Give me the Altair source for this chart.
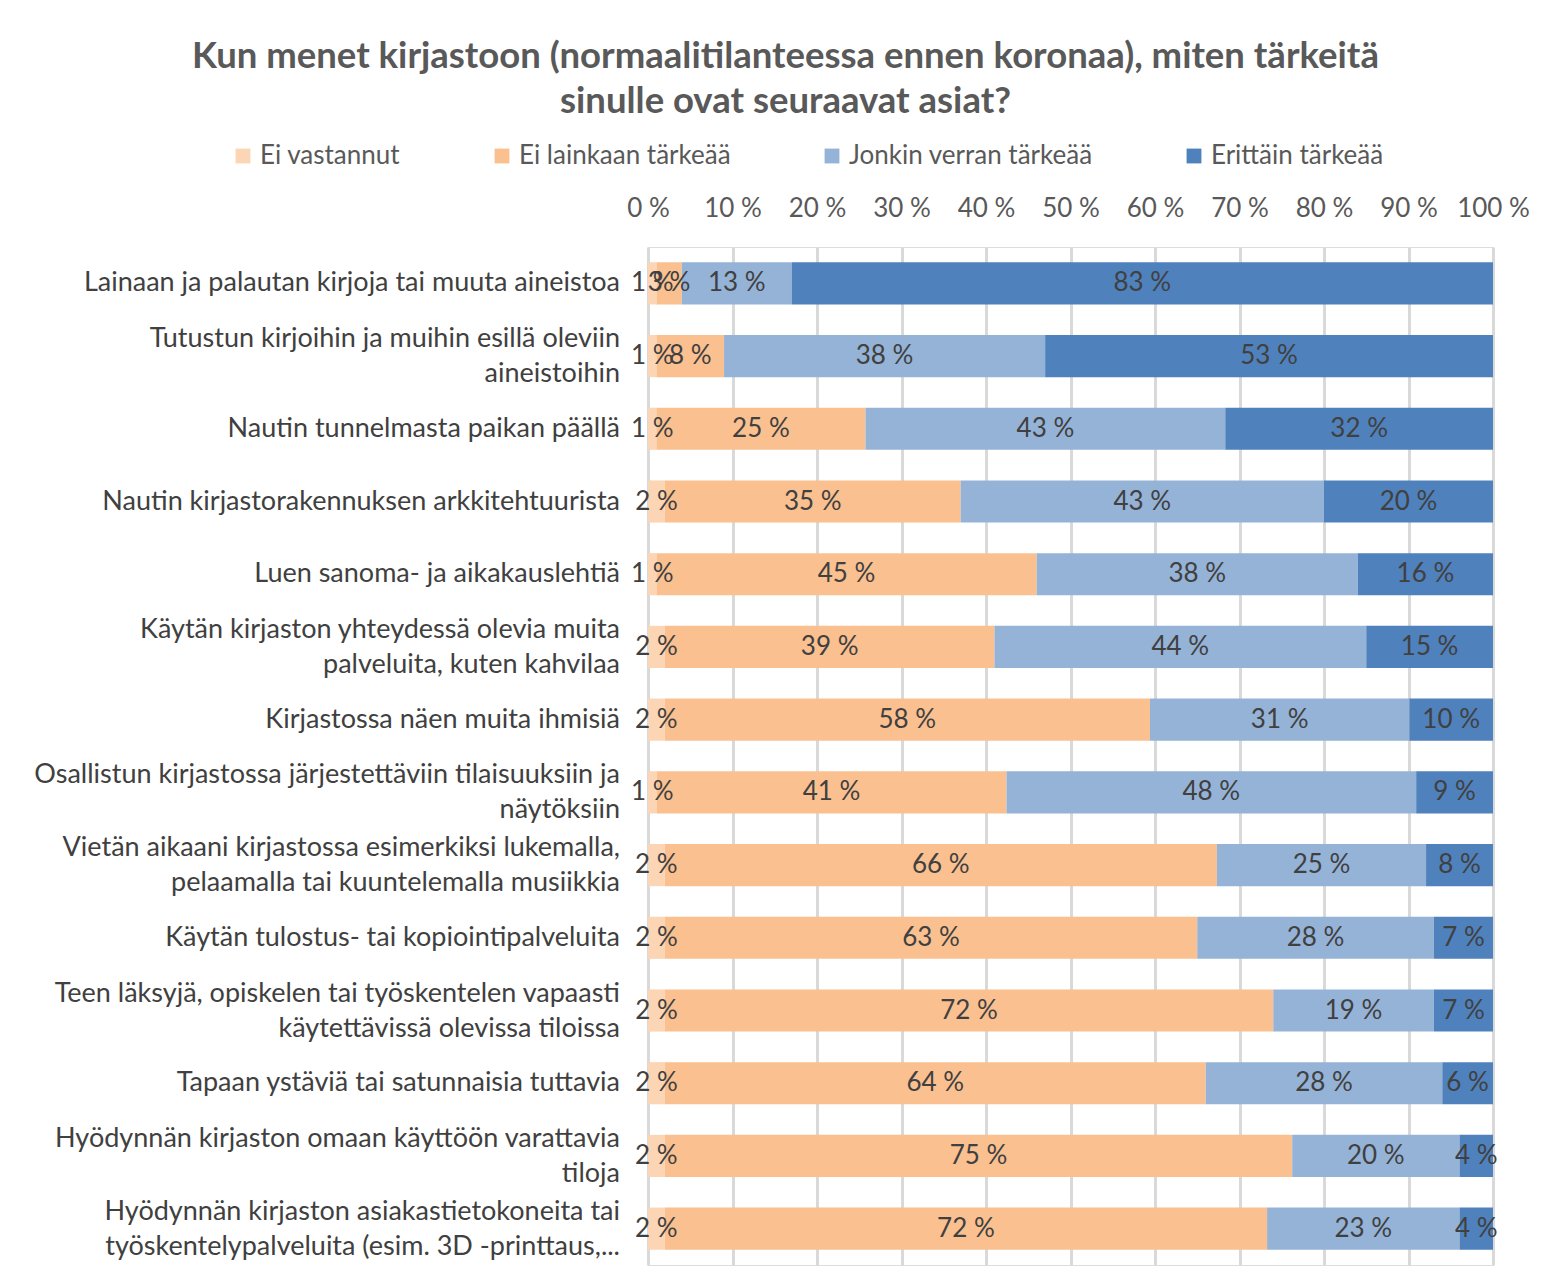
import altair as alt
import pandas as pd

categories = [
    "Lainaan ja palautan kirjoja tai muuta aineistoa",
    "Tutustun kirjoihin ja muihin esillä oleviin\naineistoihin",
    "Nautin tunnelmasta paikan päällä",
    "Nautin kirjastorakennuksen arkkitehtuurista",
    "Luen sanoma- ja aikakauslehtiä",
    "Käytän kirjaston yhteydessä olevia muita\npalveluita, kuten kahvilaa",
    "Kirjastossa näen muita ihmisiä",
    "Osallistun kirjastossa järjestettäviin tilaisuuksiin ja\nnäytöksiin",
    "Vietän aikaani kirjastossa esimerkiksi lukemalla,\npelaamalla tai kuuntelemalla musiikkia",
    "Käytän tulostus- tai kopiointipalveluita",
    "Teen läksyjä, opiskelen tai työskentelen vapaasti\nkäytettävissä olevissa tiloissa",
    "Tapaan ystäviä tai satunnaisia tuttavia",
    "Hyödynnän kirjaston omaan käyttöön varattavia\ntiloja",
    "Hyödynnän kirjaston asiakastietokoneita tai\ntyöskentelypalveluita (esim. 3D -printtaus,...",
]
series = ["Ei vastannut", "Ei lainkaan tärkeää", "Jonkin verran tärkeää", "Erittäin tärkeää"]
ei_vastannut = [1, 1, 1, 2, 1, 2, 2, 1, 2, 2, 2, 2, 2, 2]
ei_lainkaan = [3, 8, 25, 35, 45, 39, 58, 41, 66, 63, 72, 64, 75, 72]
jonkin_verran = [13, 38, 43, 43, 38, 44, 31, 48, 25, 28, 19, 28, 20, 23]
erittain = [83, 53, 32, 20, 16, 15, 10, 9, 8, 7, 7, 6, 4, 4]
colors = ["#FCD5B5", "#FAC090", "#95B3D7", "#4F81BD"]
tick_values = [0, 0.1, 0.2, 0.3, 0.4, 0.5, 0.6, 0.7, 0.8, 0.9, 1.0]

rows = []
for s_i, (s, vals) in enumerate(zip(series, [ei_vastannut, ei_lainkaan, jonkin_verran, erittain])):
    for c, v in zip(categories, vals):
        rows.append({"cat": c, "series": s, "value": v, "order": s_i})
df = pd.DataFrame(rows)
cat_df = pd.DataFrame({"cat": categories})

FONT = "Lato"
FS = 26
FS_Y = 27

base = (
    alt.Chart(df)
    .transform_joinaggregate(total="sum(value)", groupby=["cat"])
    .transform_window(cum="sum(value)", groupby=["cat"],
                      sort=[alt.SortField("order")], frame=[None, 0])
    .transform_calculate(
        start="(datum.cum - datum.value) / datum.total",
        end="datum.cum / datum.total",
        mid="(datum.cum - datum.value / 2) / datum.total",
        label="datum.value + ' %'",
    )
)

y_enc = alt.Y(
    "cat:N", sort=categories, title=None,
    scale=alt.Scale(paddingInner=0.42, paddingOuter=0.21),
    axis=alt.Axis(labels=False, ticks=False, domain=False),
)

bars = base.mark_bar().encode(
    x=alt.X(
        "start:Q", title=None,
        scale=alt.Scale(domain=[0, 1], nice=False),
        axis=alt.Axis(
            orient="top", values=tick_values,
            labelExpr="round(datum.value * 100) + ' %'",
            labelFontSize=FS, labelColor="#595959", labelFont=FONT,
            labelPadding=26, labelOverlap=False, labelFlush=False,
            grid=True, gridColor="#D9D9D9", gridWidth=3,
            ticks=False, domain=False,
        ),
    ),
    x2="end:Q",
    y=y_enc,
    color=alt.Color(
        "series:N", sort=series,
        scale=alt.Scale(domain=series, range=colors),
        legend=alt.Legend(
            title=None, orient="none", direction="horizontal", columns=4,
            legendX=-418, legendY=-104, symbolType="square", symbolSize=220,
            labelFontSize=FS, labelColor="#595959", labelFont=FONT,
            labelLimit=600, labelOffset=4,
            columnPadding=88, symbolStrokeWidth=0,
        ),
    ),
    order=alt.Order("order:Q"),
)

texts = base.mark_text(fontSize=FS, color="#404040", font=FONT).encode(
    x=alt.X("mid:Q"),
    y=alt.Y("cat:N", sort=categories),
    text="label:N",
)

label_base = alt.Chart(cat_df).transform_calculate(
    nlines="length(split(datum.cat, '\\n'))"
)
single_labels = label_base.transform_filter("datum.nlines == 1").mark_text(
    align="right", baseline="middle", fontSize=FS_Y, font=FONT, color="#404040",
    lineBreak="\n", lineHeight=35,
).encode(x=alt.value(-28), y=alt.Y("cat:N", sort=categories), text="cat:N")
double_labels = label_base.transform_filter("datum.nlines == 2").mark_text(
    align="right", baseline="middle", fontSize=FS_Y, font=FONT, color="#404040",
    lineBreak="\n", lineHeight=35, dy=-17,
).encode(x=alt.value(-28), y=alt.Y("cat:N", sort=categories), text="cat:N")

chart = (
    alt.layer(bars, texts, single_labels, double_labels)
    .properties(
        width=845, height=1018,
        autosize=alt.AutoSizeParams(type="none"),
        padding={"left": 640, "top": 239, "right": 63, "bottom": 8},
        title=alt.TitleParams(
            text=["Kun menet kirjastoon (normaalitilanteessa ennen koronaa), miten tärkeitä",
                  "sinulle ovat seuraavat asiat?"],
            fontSize=36.5, font=FONT, fontWeight="bold", color="#595959",
            lineHeight=45, anchor="middle", frame="group", dx=-285, offset=23,
        ),
    )
    .configure_view(stroke=None)
    .configure(background="white")
)

chart.save("out.html", embed_options={"renderer": "svg", "actions": False})
